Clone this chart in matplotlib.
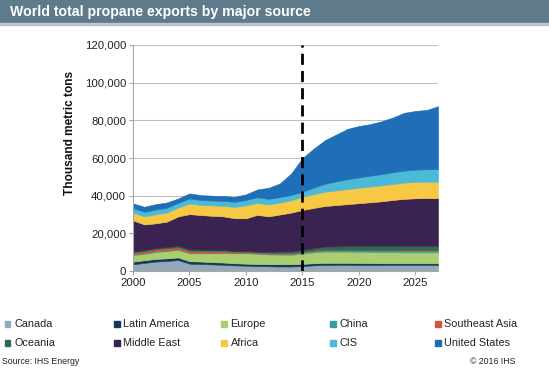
import matplotlib
matplotlib.use("Agg")
import matplotlib.pyplot as plt
from matplotlib.patches import Rectangle
from matplotlib.ticker import FuncFormatter

plt.rcParams['font.family'] = ['Liberation Sans', 'DejaVu Sans']

# Thousand metric tons, by year
years = list(range(2000, 2028))
canada = [3550, 4300, 5000, 5300, 5800, 3900, 3700, 3500, 3300, 3000, 2800, 2600, 2500, 2400,
          2400, 2600, 3000, 3200, 3300, 3300, 3200, 3200, 3200, 3200, 3200, 3200, 3200, 3200]
latin_america = [1400, 1400, 1400, 1400, 1400, 1300, 1300, 1200, 1200, 1100, 1100, 1100, 1100, 1200,
                 1200, 1200, 1100, 1100, 1000, 1000, 1000, 1000, 900, 900, 900, 900, 900, 900]
europe = [3500, 3400, 3700, 3900, 4000, 4200, 4400, 4700, 5000, 5300, 5500, 5400, 5200, 5100,
          5000, 5500, 5800, 6000, 6000, 6000, 6000, 5900, 5900, 5900, 5800, 5800, 5800, 5800]
china = [300, 300, 300, 300, 300, 300, 300, 300, 300, 300, 300, 300, 400, 400,
         400, 500, 600, 700, 700, 800, 800, 800, 900, 900, 900, 900, 900, 900]
southeast_asia = [1000, 1000, 1100, 1100, 1100, 1100, 1000, 900, 800, 600, 500, 500, 500, 500,
                  500, 400, 400, 400, 300, 300, 300, 300, 300, 300, 300, 300, 300, 300]
oceania = [700, 700, 700, 700, 700, 700, 600, 600, 500, 400, 400, 400, 600, 800,
           900, 1000, 1300, 1600, 1800, 2000, 2100, 2200, 2200, 2300, 2300, 2300, 2300, 2300]
middle_east = [16450, 13600, 13100, 13500, 15700, 18700, 18400, 18100, 17900, 17300, 17400, 19500, 18700, 19600,
               20600, 21200, 21300, 21500, 21900, 22100, 22600, 23100, 23600, 24200, 24900, 25200, 25300, 25300]
africa = [4100, 4300, 4800, 4900, 4700, 5600, 5400, 5500, 5600, 6000, 6800, 6400, 6300, 6300,
          6600, 7000, 7300, 7600, 7800, 8000, 8200, 8300, 8400, 8500, 8600, 8700, 8700, 8700]
cis = [2400, 2400, 2500, 2500, 2500, 2700, 2600, 2600, 2600, 2700, 2900, 3000, 3000, 2900,
       2800, 2700, 3500, 4200, 4800, 5200, 5500, 5800, 6000, 6200, 6400, 6500, 6600, 6700]
united_states = [2500, 2700, 2900, 2800, 2300, 2700, 2600, 2600, 2600, 2700, 3000, 4100, 5900, 7300,
                 11400, 17900, 20700, 23200, 24900, 26800, 27300, 27400, 28100, 29100, 30700, 31200, 31500, 33400]

names = ['Canada', 'Latin America', 'Europe', 'China', 'Southeast Asia',
         'Oceania', 'Middle East', 'Africa', 'CIS', 'United States']
series = [canada, latin_america, europe, china, southeast_asia,
          oceania, middle_east, africa, cis, united_states]
colors = ['#93a9b7', '#17375e', '#a9cf6e', '#3d9aa8', '#d0573a',
          '#2e6b4a', '#3a2350', '#f7c843', '#4cbad6', '#1f6eb8']

W, H = 549, 372
fig = plt.figure(figsize=(W / 100, H / 100), dpi=100)

# title bar
fig.patches.append(Rectangle((0, 1 - 23 / H), 1, 23 / H, transform=fig.transFigure,
                             color='#5e7a8b', zorder=0))
fig.patches.append(Rectangle((0, 1 - 25 / H), 1, 2 / H, transform=fig.transFigure,
                             color='#b9c6ce', zorder=0))
fig.text(10 / W, 1 - 12 / H, 'World total propane exports by major source', color='white',
         fontsize=10.2, fontweight='bold', va='center', ha='left')

ax = fig.add_axes([133 / W, 1 - 271 / H, (438 - 133) / W, (271 - 45) / H])
polys = ax.stackplot(years, *series, colors=colors)
for p, c in zip(polys, colors):
    p.set_edgecolor(c)
    p.set_linewidth(0.4)

ax.set_xlim(2000, 2027)
ax.set_ylim(0, 120000)
ax.set_yticks(range(0, 120001, 20000))
ax.set_xticks(range(2000, 2026, 5))
ax.yaxis.set_major_formatter(FuncFormatter(lambda v, p: f"{int(v):,}"))
ax.grid(axis='y', color='#c0c0c0', lw=0.8)
ax.set_axisbelow(True)
ax.axvline(2015, color='black', ls=(0, (4, 2.2)), lw=2, zorder=5)

for s in ['top', 'right']:
    ax.spines[s].set_visible(False)
for s in ['left', 'bottom']:
    ax.spines[s].set_color('#a6a6a6')
    ax.spines[s].set_linewidth(0.8)
ax.tick_params(length=3, color='#a6a6a6', labelsize=8.2, labelcolor='#222222', pad=2)

fig.text(70 / W, 1 - 133 / H, 'Thousand metric tons', rotation=90, fontsize=8.6,
         fontweight='bold', ha='center', va='center', color='#111111')

# legend, laid out in two rows of five
col_x = [7.5, 116.7, 224, 333, 437.7]
row_y = [324, 343]
for i, (name, c) in enumerate(zip(names, colors)):
    cx = col_x[i % 5]
    cy = row_y[i // 5]
    fig.patches.append(Rectangle(((cx - 2.8) / W, 1 - (cy + 2.8) / H), 5.6 / W, 5.6 / H,
                                 transform=fig.transFigure, color=c))
    fig.text((cx + 6.5) / W, 1 - cy / H, name, fontsize=7.8, va='center', ha='left',
             color='#222222')

fig.text(2 / W, 1 - 362 / H, 'Source: IHS Energy', fontsize=6.3, va='center', ha='left',
         color='#222222')
fig.text(515 / W, 1 - 362 / H, '\u00a9 2016 IHS', fontsize=6.3, va='center', ha='right',
         color='#222222')

fig.savefig('out.png', dpi=100)
